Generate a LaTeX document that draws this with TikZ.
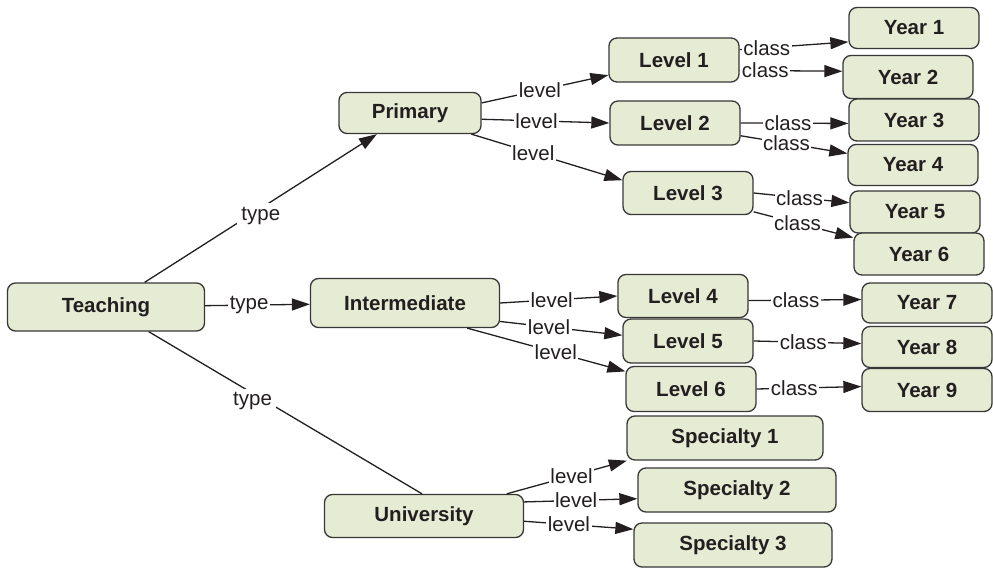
\documentclass[tikz,border=0pt]{standalone}
\usepackage{fontspec}
\setmainfont{Liberation Sans}
\usepackage{tikz}
\usetikzlibrary{positioning,arrows.meta}
\definecolor{boxfill}{RGB}{230,235,212}
\definecolor{boxline}{RGB}{55,55,55}
\definecolor{ink}{RGB}{35,31,32}
\tikzset{
	tree/.style={>={Triangle[length=18pt,width=12pt]},line width=1.3pt,
		draw=ink,x=1pt,y=-1pt},
	topic/.style={rectangle,rounded corners=8pt,draw=boxline,fill=boxfill,
		text=ink,font=\bfseries\fontsize{20.5}{24}\selectfont,inner sep=0pt,
		minimum width=130pt,minimum height=43pt},
	rel/.style={fill=white,text=ink,font=\fontsize{20.5}{24}\selectfont,
		inner sep=1.5pt}
}

\begin{document}
\begin{tikzpicture}[tree]
	\useasboundingbox (0,0) rectangle (993,569);
	
	% root and types
	\node[topic,minimum width=197pt,minimum height=48pt] (teach) at (106,307) {Teaching};
	\node[topic,minimum width=142pt,minimum height=41pt] (prim) at (410,113) {Primary};
	\node[topic,minimum width=189pt,minimum height=49pt] (inter) at (405,303) {Intermediate};
	\node[topic,minimum width=199pt,minimum height=43pt] (univ) at (424,516) {University};
	
	% levels
	\node[topic,minimum height=44pt] (l1) at (674,60) {Level 1};
	\node[topic,minimum height=44pt] (l2) at (675,123) {Level 2};
	\node[topic] (l3) at (688,193) {Level 3};
	\node[topic] (l4) at (683,296) {Level 4};
	\node[topic,minimum height=44pt] (l5) at (688,341) {Level 5};
	\node[topic,minimum height=45pt] (l6) at (691,389) {Level 6};
	\node[topic,minimum width=196pt,minimum height=44pt] (s1) at (725,438) {Specialty 1};
	\node[topic,minimum width=198pt,minimum height=44pt] (s2) at (737,490) {Specialty 2};
	\node[topic,minimum width=198pt,minimum height=44pt] (s3) at (733,545) {Specialty 3};
	
	% years
	\node[topic,minimum height=41pt] (y1) at (914,28) {Year 1};
	\node[topic] (y2) at (908,77) {Year 2};
	\node[topic,minimum height=42pt] (y3) at (914,120) {Year 3};
	\node[topic,minimum height=41pt] (y4) at (913,165) {Year 4};
	\node[topic,minimum height=42pt] (y5) at (915,212) {Year 5};
	\node[topic,minimum height=42pt] (y6) at (919,254) {Year 6};
	\node[topic,minimum height=40pt] (y7) at (927,303) {Year 7};
	\node[topic,minimum height=41pt] (y8) at (927,347) {Year 8};
	\node[topic] (y9) at (927,390) {Year 9};
	
	\path[->] (teach) edge node[rel,pos=0.5,yshift=-8pt,inner sep=4pt] {type} (prim);
	\path[->] (teach) edge node[rel,pos=0.42] {type} (inter);
	\path (teach.330) edge node[rel,pos=0.38,yshift=-8pt,inner sep=4pt] {type} (univ.95);
	
	\path[->] (prim.8) edge node[rel,pos=0.46] {level} (l1.193);
	\path[->] (prim.-5) edge node[rel,pos=0.43] {level} (l2.west);
	\path[->] (prim.-19) edge node[rel,pos=0.41] {level} (l3.169);
	\path[->] (inter.east) edge node[rel,pos=0.44] {level} (l4.west);
	\path[->] (inter.-11) edge node[rel,pos=0.4] {level} (l5.175);
	\path[->] (inter.-22) edge node[rel,pos=0.56] {level} (l6.165);
	\path[->] (univ.15) edge node[rel,pos=0.54] {level} (s1.193);
	\path[->] (univ.8) edge node[rel,pos=0.46] {level} (s2.185);
	\path[->] (univ.-3) edge node[rel,pos=0.41] {level} (s3.171);
	
	\path[->] (l1.9) edge node[rel,pos=0.25] {class} (y1.192);
	\path[->] (l1.-9) edge node[rel,pos=0.25] {class} (y2.175);
	\path[->] (l2.east) edge node[rel,pos=0.44] {class} (y3.183);
	\path[->] (l2.-11) edge node[rel,pos=0.43] {class} (y4.170);
	\path[->] (l3.east) edge node[rel,pos=0.48] {class} (y5.172);
	\path[->] (l3.-16) edge node[rel,pos=0.44] {class} (y6.166);
	\path[->] (l4.-4) edge node[rel,pos=0.42] {class} (y7.177);
	\path[->] (l5.east) edge node[rel,pos=0.46] {class} (y8.177);
	\path[->] (l6.east) edge node[rel,pos=0.36] {class} (y9.177);
\end{tikzpicture}
\end{document}
